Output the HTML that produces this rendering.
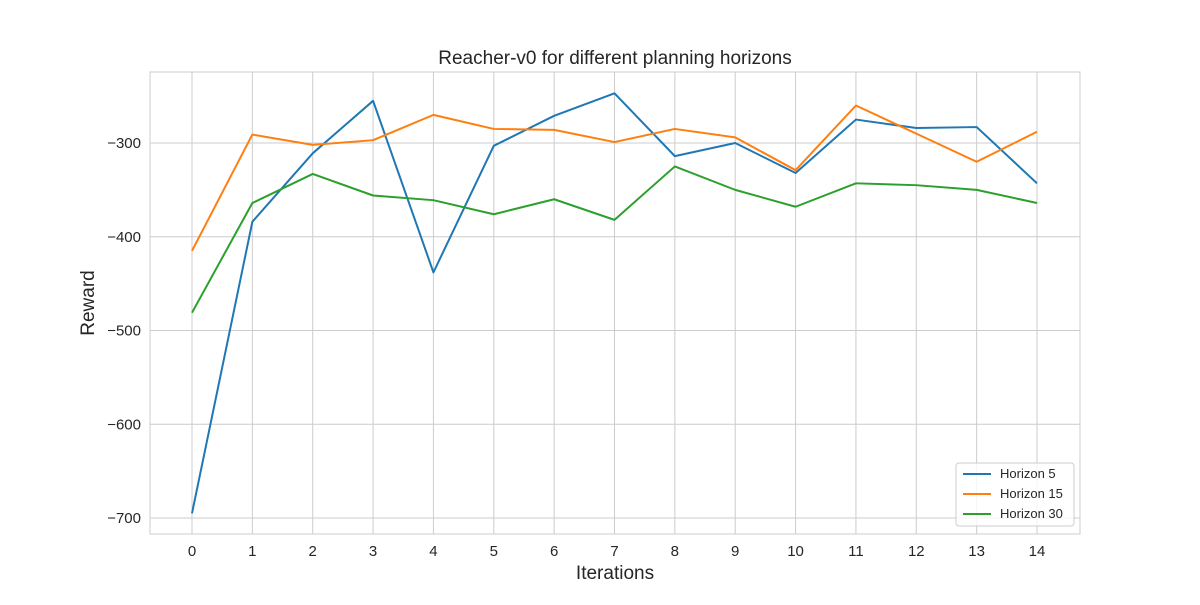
<!DOCTYPE html>
<html><head><meta charset="utf-8"><style>
body{margin:0;background:#fff;}
svg text{font-family:"Liberation Sans","DejaVu Sans",sans-serif;fill:#262626;}
</style></head><body>
<svg width="1200" height="600">
<text x="615" y="64" font-size="19" text-anchor="middle">Reacher-v0 for different planning horizons</text>
<rect x="150" y="72" width="930" height="462" fill="#fff" stroke="#ccc"/>
<g id="grid"></g><g id="ticks"></g><g id="lines"></g>
<text x="615" y="579" font-size="19" text-anchor="middle">Iterations</text>
<text x="94" y="303" font-size="19" text-anchor="middle" transform="rotate(-90 94 303)">Reward</text>
<g>
<rect x="956" y="463" width="118" height="63" rx="3" fill="#fff" fill-opacity="0.8" stroke="#ccc"/>
<line x1="963" x2="991" y1="474" y2="474" stroke="#1f77b4" stroke-width="2"/>
<text x="1000" y="478" font-size="13">Horizon 5</text>
<line x1="963" x2="991" y1="494" y2="494" stroke="#ff7f0e" stroke-width="2"/>
<text x="1000" y="498" font-size="13">Horizon 15</text>
<line x1="963" x2="991" y1="514" y2="514" stroke="#2ca02c" stroke-width="2"/>
<text x="1000" y="518" font-size="13">Horizon 30</text>
</g>
</svg>
<script>
const iterations=[0,1,2,3,4,5,6,7,8,9,10,11,12,13,14];
const horizon5=[-695,-384,-311,-255,-438,-303,-271,-247,-314,-300,-332,-275,-284,-283,-343];
const horizon15=[-415,-291,-302,-297,-270,-285,-286,-299,-285,-294,-329,-260,-290,-320,-288];
const horizon30=[-481,-364,-333,-356,-361,-376,-360,-382,-325,-350,-368,-343,-345,-350,-364];
const yTicks=[-700,-600,-500,-400,-300];
const NS="http://www.w3.org/2000/svg";
const X=i=>192+i*(1037-192)/14;
const Y=v=>143+(-300-v)*0.9375;
const grid=document.getElementById('grid'),ticks=document.getElementById('ticks'),lines=document.getElementById('lines');
function mk(t,a,p){const e=document.createElementNS(NS,t);for(const k in a)e.setAttribute(k,a[k]);p.appendChild(e);return e;}
iterations.forEach(i=>{
 const g=mk('line',{x1:X(i),x2:X(i),y1:72,y2:534,stroke:'#ccc','stroke-width':1},grid);
 
 
 const t=mk('text',{x:X(i),y:556,'font-size':15,'text-anchor':'middle'},ticks);t.textContent=i;
 
 
});
yTicks.forEach(v=>{
 const g=mk('line',{x1:150,x2:1080,y1:Y(v),y2:Y(v),stroke:'#ccc','stroke-width':1},grid);
 
 
 const t=mk('text',{x:141,y:Y(v)+5,'font-size':15,'text-anchor':'end'},ticks);t.textContent='\u2212'+Math.abs(v);
 
 
});
[[horizon5,'#1f77b4','line-horizon-5'],[horizon15,'#ff7f0e','line-horizon-15'],[horizon30,'#2ca02c','line-horizon-30']].forEach(([d,c,n])=>{
 const p=mk('polyline',{points:d.map((v,i)=>X(iterations[i])+','+Y(v)).join(' '),fill:'none',stroke:c,'stroke-width':2,'stroke-linejoin':'round'},lines);
 
 
});
</script>
</body></html>
